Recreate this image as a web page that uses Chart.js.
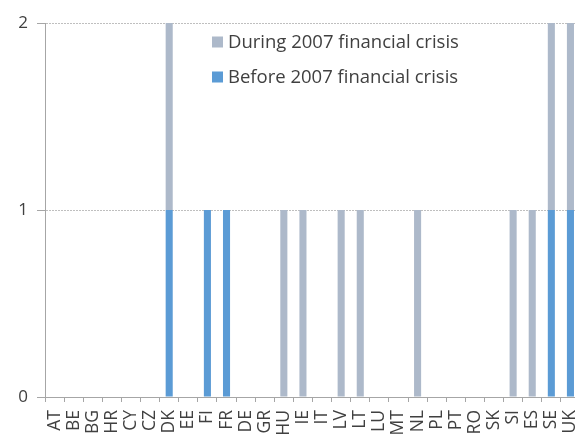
<!DOCTYPE html>
<html>
<head>
<meta charset="utf-8">
<script src="https://cdn.jsdelivr.net/npm/chart.js@4.4.1/dist/chart.umd.min.js"></script>
<style>
  html, body { margin: 0; padding: 0; background: #fff; overflow: hidden; }
  #wrap { width: 580px; height: 447px; position: relative; }
</style>
</head>
<body>
<div id="wrap"><canvas id="c" width="580" height="447"></canvas></div>
<script>
const categories = ["AT","BE","BG","HR","CY","CZ","DK","EE","FI","FR","DE","GR","HU","IE","IT","LV","LT","LU","MT","NL","PL","PT","RO","SK","SI","ES","SE","UK"];
const beforeCrisis = [0,0,0,0,0,0,1,0,1,1,0,0,0,0,0,0,0,0,0,0,0,0,0,0,0,0,1,1];
const duringCrisis = [0,0,0,0,0,0,1,0,0,0,0,0,1,1,0,1,1,0,0,1,0,0,0,0,1,1,1,1];
const yTicks = [0, 1, 2];
const seriesLabels = ["Before 2007 financial crisis", "During 2007 financial crisis"];

const FONT = "'Open Sans', 'Noto Sans', sans-serif";
const TXT = '#404040';

const legendInside = {
  id: 'legendInside',
  afterDatasetsDraw(chart) {
    const ctx = chart.ctx;
    const items = [chart.data.datasets[1], chart.data.datasets[0]];
    const x0 = 212, ys = [42, 77];
    ctx.save();
    ctx.font = "18.5px " + FONT;
    ctx.textBaseline = 'middle';
    items.forEach((ds, i) => {
      ctx.fillStyle = ds.backgroundColor;
      ctx.fillRect(x0, ys[i] - 5.5, 11, 11);
      ctx.fillStyle = TXT;
      ctx.fillText(ds.label, x0 + 16, ys[i] + 1);
    });
    ctx.restore();
  }
};

new Chart(document.getElementById('c'), {
  type: 'bar',
  data: {
    labels: categories,
    datasets: [
      { label: seriesLabels[0], data: beforeCrisis, backgroundColor: '#5B9BD5', barPercentage: 0.37, categoryPercentage: 1 },
      { label: seriesLabels[1], data: duringCrisis, backgroundColor: '#ADB9CA', barPercentage: 0.37, categoryPercentage: 1 }
    ]
  },
  options: {
    responsive: false,
    animation: false,
    layout: { padding: { top: 23, right: 0, left: 0, bottom: 0 } },
    plugins: { legend: { display: false }, tooltip: { enabled: false } },
    scales: {
      x: {
        stacked: true,
        grid: { display: true, drawOnChartArea: false, drawTicks: true, tickLength: 5, color: '#A6A6A6', offset: true },
        border: { display: true, color: '#A6A6A6', width: 1 },
        ticks: { minRotation: 90, maxRotation: 90, autoSkip: false, padding: 8, color: TXT, font: { family: FONT, size: 17.5 } },
        afterFit(scale) { scale.height = 50; scale.paddingLeft = 0; scale.paddingRight = 0; }
      },
      y: {
        stacked: true,
        min: 0, max: 2,
        afterBuildTicks(scale) { scale.ticks = yTicks.map(v => ({ value: v })); },
        grid: { color: '#BFBFBF', tickColor: '#A6A6A6', tickLength: 8, tickBorderDash: [], lineWidth: 1 },
        border: { display: true, color: '#A6A6A6', dash: [2, 1] },
        ticks: { padding: 9, color: TXT, font: { family: FONT, size: 17 } },
        afterFit(scale) { scale.width = 45; scale.paddingTop = 0; scale.paddingBottom = 0; }
      }
    }
  },
  plugins: [legendInside]
});
</script>
</body>
</html>
